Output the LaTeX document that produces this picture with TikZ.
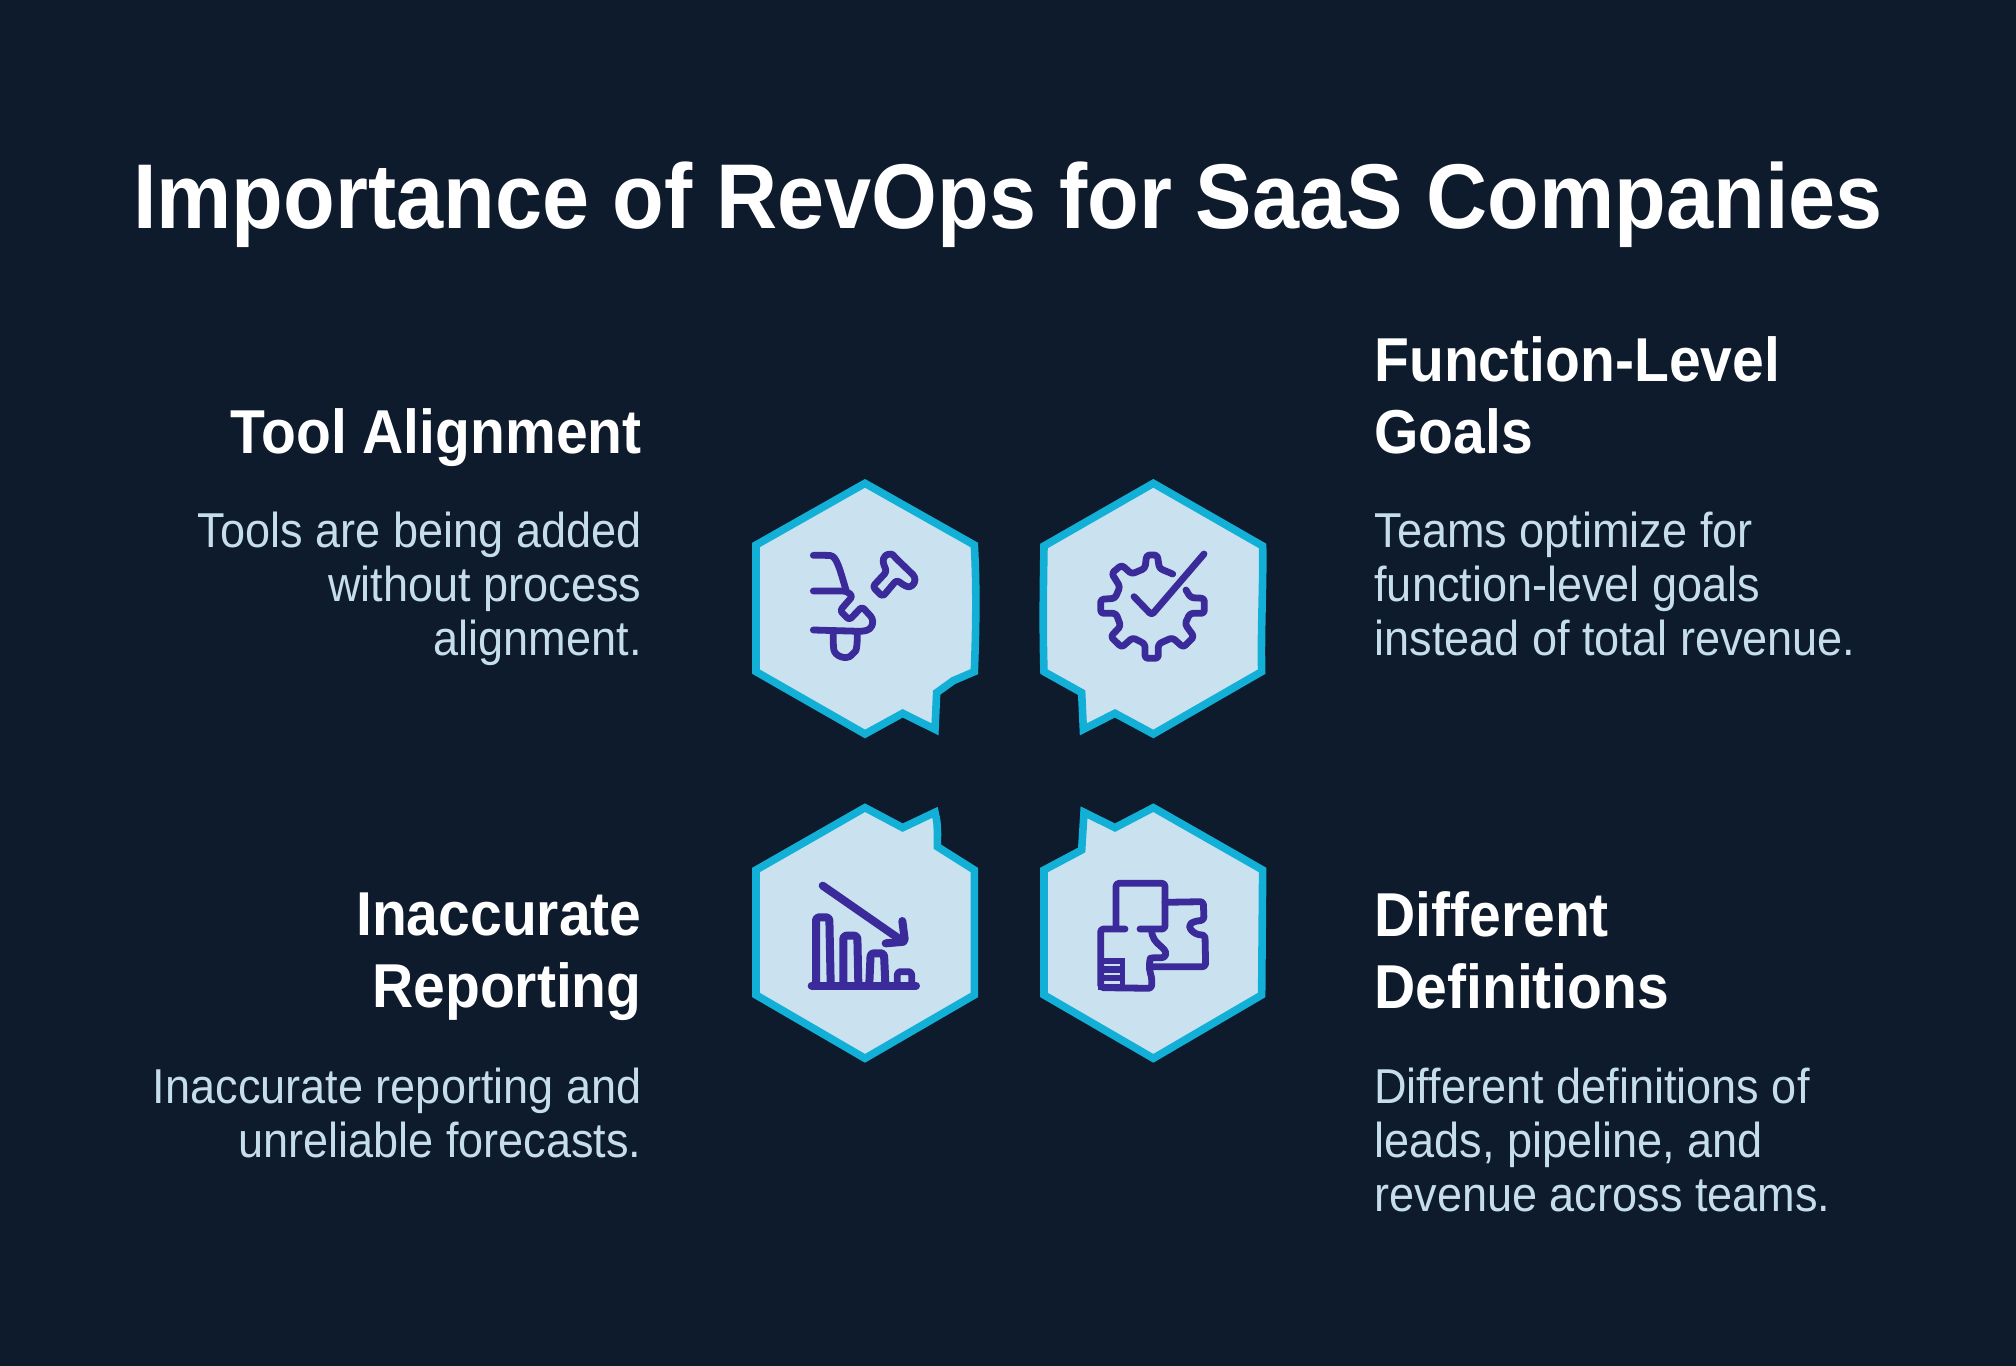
\documentclass[tikz,border=0pt]{standalone}
\usepackage{fontspec}
\setmainfont{Liberation Sans}[FakeStretch=0.92]
\definecolor{bgnavy}{HTML}{0D1B2C}
\definecolor{hexfill}{HTML}{CAE2EF}
\definecolor{hexedge}{HTML}{12B0D6}
\definecolor{iconink}{HTML}{3A2A9A}
\definecolor{bodyblue}{HTML}{C6DDED}
\tikzset{%
	hexcell/.style  = {draw=hexedge, fill=hexfill, line width=3.8pt},
	iconline/.style = {draw=iconink, line width=3.4pt, line cap=round, line join=round, rounded corners=1.5pt},
	iconbold/.style = {iconline, line width=4pt},
	titletext/.style = {text=white, inner sep=0pt, font=\bfseries\fontsize{46}{50}\selectfont},
	headleft/.style  = {text=white, inner sep=0pt, anchor=north east, align=right, font=\bfseries\fontsize{31}{36}\selectfont},
	headright/.style = {text=white, inner sep=0pt, anchor=north west, align=left, font=\bfseries\fontsize{31}{36}\selectfont},
	bodyleft/.style  = {text=bodyblue, inner sep=0pt, anchor=north east, align=right, font=\fontsize{24.5}{27}\selectfont},
	bodyright/.style = {text=bodyblue, inner sep=0pt, anchor=north west, align=left, font=\fontsize{24.5}{27}\selectfont},
}
\begin{document}
\begin{tikzpicture}[x=0.5pt,y=-0.5pt]
	\useasboundingbox (0,0) rectangle (2016,1365);
	\fill[bgnavy] (-10,-10) rectangle (2026,1375);
	
	\node[titletext,anchor=base] (title) at (1008,228) {Importance of RevOps for SaaS Companies};
	
	% left column
	\node[headleft] (toolhead) at (642,408) {Tool Alignment};
	\node[bodyleft] (toolbody) at (642,512) {Tools are being added\\without process\\alignment.};
	\node[headleft] (reporthead) at (642,892) {Inaccurate\\Reporting};
	\node[bodyleft] (reportbody) at (642,1068) {Inaccurate reporting and\\unreliable forecasts.};
	
	% right column
	\node[headright] (goalhead) at (1374,336) {Function-Level\\Goals};
	\node[bodyright] (goalbody) at (1374,512) {Teams optimize for\\function-level goals\\instead of total revenue.};
	\node[headright] (defhead) at (1374,891) {Different\\Definitions};
	\node[bodyright] (defbody) at (1374,1068) {Different definitions of\\leads, pipeline, and\\revenue across teams.};
	
	% top left hexagon, tool icon
	\begin{scope}[shift={(740,470)},scale=0.3333]
	\draw[hexcell] (375,40) -- (703,225) .. controls (710,350) and (708,480) .. (703,605) -- (640,632) -- (590,668) -- (585,778) -- (488,730) -- (375,792) -- (48,605) -- (48,225) -- cycle;
	\draw[iconline] (220,256) -- (262,256) .. controls (290,258) and (300,300) .. (318,360);
	\draw[iconline] (220,363) -- (318,363) -- (338,378) -- (300,422) -- (328,450) -- (366,410) -- (398,445) .. controls (398,475) and (385,482) .. (360,484) -- (220,480);
	\draw[iconline] (280,490) -- (280,530) .. controls (285,560) and (320,570) .. (340,550) .. controls (350,540) and (352,520) .. (352,490);
	\draw[iconline] (398,350) -- (440,305) -- (428,275) .. controls (435,250) and (455,250) .. (465,262) -- (525,320) .. controls (525,345) and (510,352) .. (495,348) -- (470,330) -- (428,380) -- cycle;
	\end{scope}
	
	% top right hexagon, gear and check
	\begin{scope}[shift={(1030,470)},scale=0.3333]
	\draw[hexcell] (370,40) -- (698,228) .. controls (700,350) and (692,480) .. (695,605) -- (370,792) -- (255,730) -- (160,778) -- (155,668) -- (42,605) .. controls (38,480) and (40,350) .. (42,228) -- cycle;
	\draw[iconline] (428,312) -- (388,295) -- (382,255) -- (350,255) -- (345,295) -- (305,312) -- (275,285) -- (245,310) -- (270,350) -- (255,385) -- (212,388) -- (212,430) -- (258,430) -- (272,468) -- (242,500) -- (275,532) -- (308,503) -- (345,522) -- (345,565) -- (385,565) -- (385,522) -- (427,503) -- (460,532) -- (492,500) -- (465,462) -- (480,430) -- (523,430) -- (523,385) -- (482,383) -- (468,360);
	\draw[iconline] (312,380) -- (365,435) -- (522,252);
	\end{scope}
	
	% bottom left hexagon, falling bars
	\begin{scope}[shift={(740,795)},scale=0.3333]
	\draw[hexcell] (375,38) -- (488,98) -- (585,52) .. controls (595,90) and (592,120) .. (592,155) -- (703,225) -- (703,600) -- (375,790) -- (48,600) -- (48,225) -- cycle;
	\draw[iconbold] (248,272) -- (490,440);
	\draw[iconbold] (487,378) -- (495,440) -- (437,445);
	\draw[iconbold] (228,565) -- (228,367) -- (268,367) -- (272,565);
	\draw[iconbold] (310,565) -- (310,422) -- (352,422) -- (355,565);
	\draw[iconbold] (388,565) -- (392,475) -- (432,475) -- (436,565);
	\draw[iconline] (472,565) -- (472,530) -- (515,530) -- (515,565);
	\draw[iconbold] (215,572) -- (528,572);
	\end{scope}
	
	% bottom right hexagon, puzzle pieces
	\begin{scope}[shift={(1030,795)},scale=0.3333]
	\draw[hexcell] (370,38) -- (698,225) -- (695,600) -- (370,790) -- (42,600) -- (42,225) -- (155,165) -- (162,52) -- (255,98) -- cycle;
	\fill[iconink] (205,490) rectangle (284,585);
	\draw[hexfill,line width=1.2pt] (222,510) -- (270,510) (222,537) -- (270,537) (222,563) -- (270,563);
	\draw[iconline] (258,395) -- (258,265) -- (405,265) -- (405,402) -- (330,402);
	\draw[iconline] (285,402) -- (212,402) -- (212,578) -- (365,580) -- (365,545) .. controls (355,520) and (360,490) .. (370,488) -- (405,488) .. controls (412,455) and (365,450) .. (365,405);
	\draw[iconline] (405,322) -- (520,320) -- (522,375) -- (490,380) .. controls (470,395) and (490,420) .. (525,420) -- (527,515) -- (370,515);
	\end{scope}
	
\end{tikzpicture}
\end{document}
